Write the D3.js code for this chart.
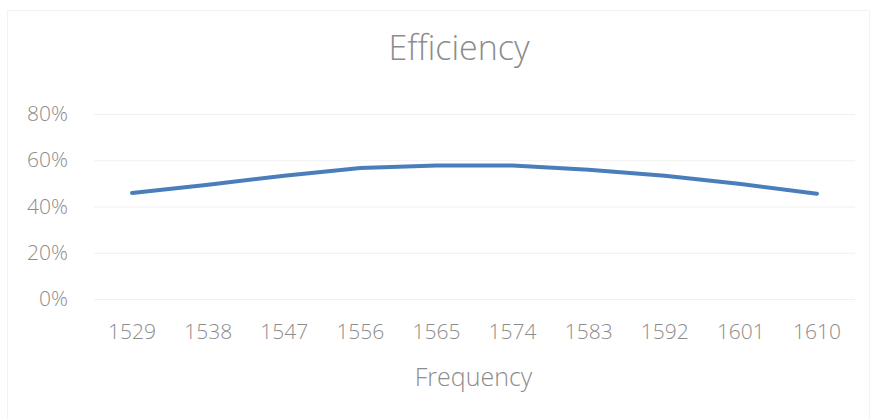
<!DOCTYPE html>
<html lang="en">
<head>
    <meta charset="UTF-8">
    <title>Efficiency</title>
    <script src="https://d3js.org/d3.v7.min.js"></script>
    <style>
    body { margin: 0; background: #fff; }
    text { font-family: "Open Sans", "Noto Sans", sans-serif; font-weight: 300; fill: #8c8c8c; }
    .gridlines .domain { display: none; }
    .gridlines line { stroke: #f0f0f0; }
    .axis .domain, .axis line { display: none; }
    </style>
</head>
<body>
    <svg id="chart" width="873" height="419"></svg>
    <script>
        // data
        const frequencies = ["1529", "1538", "1547", "1556", "1565", "1574", "1583", "1592", "1601", "1610"];
        const efficiency = [45.8, 49.4, 53.3, 56.6, 57.7, 57.7, 55.9, 53.3, 49.7, 45.5];
        const yTicks = [0, 20, 40, 60, 80];

        const svg = d3.select("#chart");
        const margin = { top: 114, right: 18, bottom: 120, left: 94 };
        const width = 873 - margin.left - margin.right;
        const height = 299 - margin.top;

        // chart border
        svg.append("rect")
            .attr("x", 7.5).attr("y", 10.5)
            .attr("width", 862).attr("height", 420)
            .attr("fill", "none").attr("stroke", "#f2f2f2");

        svg.append("text")
            .attr("x", 459).attr("y", 60)
            .attr("text-anchor", "middle")
            .style("font-size", "34px")
            .text("Efficiency");

        const chart = svg.append("g")
            .attr("transform", `translate(${margin.left},${margin.top})`);

        const x = d3.scaleBand().domain(frequencies).range([0, width]);
        const y = d3.scaleLinear().domain([0, 80]).range([height, 0]);

        chart.append("g")
            .attr("class", "gridlines")
            .call(d3.axisLeft(y).tickValues(yTicks).tickSize(-width).tickFormat(""));

        chart.append("g")
            .attr("class", "axis")
            .attr("transform", "translate(-23,0)")
            .call(d3.axisLeft(y).tickValues(yTicks).tickSize(0).tickFormat(d => d + "%"))
            .selectAll("text").style("font-size", "21px").attr("fill", "#999999");

        chart.append("g")
            .attr("class", "axis")
            .attr("transform", `translate(0,${height + 22})`)
            .call(d3.axisBottom(x).tickSize(0))
            .selectAll("text").style("font-size", "21px").attr("fill", "#999999");

        svg.append("text")
            .attr("x", margin.left + width / 2 - 1).attr("y", 386)
            .attr("text-anchor", "middle")
            .style("font-size", "25px")
            .text("Frequency");

        const line = d3.line()
            .x((d, i) => x(frequencies[i]) + x.bandwidth() / 2)
            .y(d => y(d));

        chart.append("path")
            .datum(efficiency)
            .attr("fill", "none")
            .attr("stroke", "#4a7ebb")
            .attr("stroke-width", 4)
            .attr("stroke-linecap", "round")
            .attr("stroke-linejoin", "round")
            .attr("d", line);
    </script>
</body>
</html>
